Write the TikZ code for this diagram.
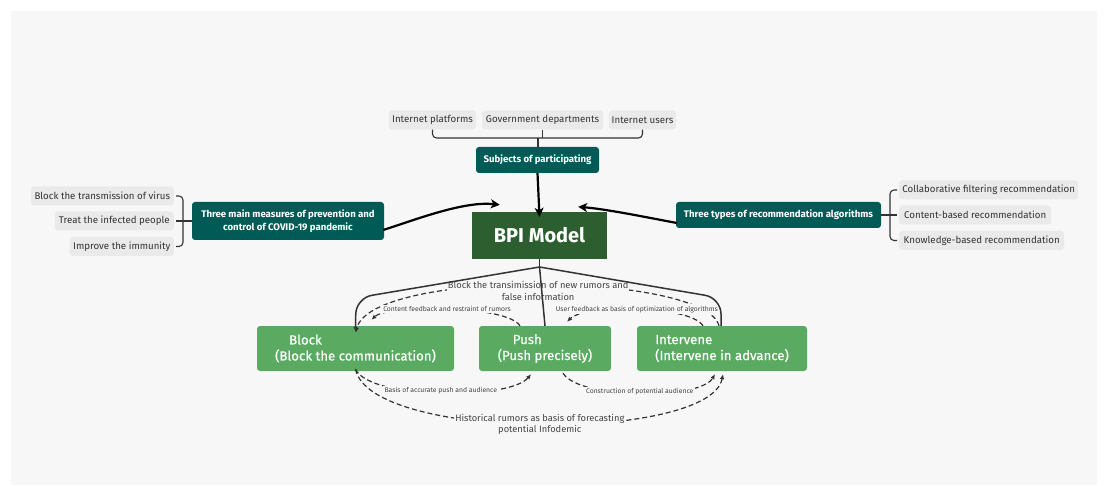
\documentclass[tikz,border=0pt]{standalone}
\usepackage{fontspec}
\setmainfont{Fira Sans}
\newfontfamily\stepfont{Fira Sans}[FakeBold=0.6]
\usetikzlibrary{arrows.meta}
\definecolor{panel}{HTML}{F7F7F7}
\definecolor{leafgray}{HTML}{EAEAEA}
\definecolor{tealbox}{HTML}{005B57}
\definecolor{bpigreen}{HTML}{2C5E30}
\definecolor{stepgreen}{HTML}{5AAA62}
\definecolor{txt}{HTML}{333333}
\definecolor{lbl}{HTML}{444444}
\tikzset{
  leaf/.style={fill=leafgray, rounded corners=3pt, text=txt,
    font=\fontsize{9.7}{11}\selectfont, minimum height=19pt, inner sep=0pt},
  topic/.style={fill=tealbox, rounded corners=3pt, text=white, align=center,
    font=\fontsize{9.6}{12.5}\selectfont\bfseries, inner sep=0pt},
  central/.style={fill=bpigreen, text=white, inner sep=0pt,
    font=\fontsize{20}{24}\selectfont\bfseries},
  stepbox/.style={fill=stepgreen, rounded corners=3pt, text=white, align=left,
    font=\stepfont\fontsize{13.2}{16}\selectfont, minimum height=45pt, inner sep=0pt},
  brk/.style={draw=txt, line width=1.1pt, rounded corners=4pt},
  bigarrow/.style={draw=black, line width=2.2pt,
    -{Stealth[length=9pt,width=9pt,inset=2.5pt]}},
  branch/.style={draw=txt, line width=1.5pt, rounded corners=16pt},
  rel/.style={draw=txt, line width=1.2pt, dash pattern=on 5pt off 3pt,
    -{Latex[length=5pt,width=4.5pt]}},
  rlbig/.style={fill=panel, text=lbl, align=center, inner sep=1pt,
    font=\fontsize{9.3}{11.5}\selectfont},
  rlsmall/.style={fill=panel, text=lbl, inner sep=1.5pt,
    font=\fontsize{6.8}{8}\selectfont},
}
\begin{document}
\begin{tikzpicture}[x=1pt,y=-1pt]
\useasboundingbox (0,0) rectangle (1108,486);
\fill[white] (0,0) rectangle (1108,486);
\fill[panel] (11,11) rectangle (1097,485);

% participants
\node[leaf, minimum width=87pt]  (ip) at (432.5,120) {Internet platforms};
\node[leaf, minimum width=121pt] (gd) at (542.5,120) {Government departments};
\node[leaf, minimum width=67pt]  (iu) at (642.5,120) {Internet users};
\node[topic, minimum width=123pt, minimum height=26pt] (sub) at (537.5,160)
  {Subjects of participating};

% central model
\node[central, minimum width=135pt, minimum height=47pt] (bpi) at (539.5,235.5) {BPI Model};

% prevention measures
\node[topic, minimum width=192pt, minimum height=38pt] (lm) at (288,221)
  {Three main measures of prevention and\\control of COVID-19 pandemic};
\node[leaf, minimum width=143pt, anchor=east] (bt) at (174,196) {Block the transmission of virus};
\node[leaf, minimum width=119pt, anchor=east] (ti) at (174,221) {Treat the infected people};
\node[leaf, minimum width=104pt, anchor=east] (im) at (174,246.5) {Improve the immunity};

% recommendation algorithms
\node[topic, minimum width=205pt, minimum height=26pt] (rt) at (778.5,215)
  {Three types of recommendation algorithms};
\node[leaf, minimum width=179pt, anchor=west] (cf) at (899,190) {Collaborative filtering recommendation};
\node[leaf, minimum width=152pt, anchor=west] (cb) at (899,215) {Content-based recommendation};
\node[leaf, minimum width=165pt, anchor=west] (kb) at (899,240.5) {Knowledge-based recommendation};

% three steps
\node[stepbox, minimum width=197pt] (blk) at (355.5,348.5)
  {\hspace*{14pt}Block\\(Block the communication)};
\node[stepbox, minimum width=132pt] (psh) at (545,348.5)
  {\hspace*{15pt}Push\\(Push precisely)};
\node[stepbox, minimum width=170pt] (itv) at (722,348.5)
  {Intervene\\(Intervene in advance)};

% brackets
\coordinate (jt) at (538,138);
\draw[brk] (ip.south) |- (jt) -| (iu.south);
\draw[brk] (gd.south) -- (gd.south |- jt);
\draw[brk] (jt) -- (jt |- sub.north);

\coordinate (jl) at (183,221);
\draw[brk] ([xshift=2pt]bt.east) -| (jl) |- ([xshift=2pt]im.east);
\draw[brk] ([xshift=2pt]ti.east) -- (lm.west);

\coordinate (jr) at (890,215);
\draw[brk] ([xshift=-2pt]cf.west) -| (jr) |- ([xshift=-2pt]kb.west);
\draw[brk] (rt.east) -- ([xshift=-2pt]cb.west);

% thick arrows into the model
\coordinate (ltip) at ([shift={(28,-7)}]bpi.north west);
\coordinate (rtip) at ([shift={(-29,-5)}]bpi.north east);
\draw[bigarrow] (sub.south) -- ([yshift=-5pt]bpi.north);
\draw[bigarrow] (lm.east) ++(-1,9) .. controls (420,218) and (465,201) .. (ltip);
\draw[bigarrow] (rt.west) ++(1,8) .. controls (640,216) and (605,209) .. (rtip);

% relationships above the steps
\coordinate (itvTop) at ([xshift=-3pt]itv.north);
\coordinate (blkTop) at ([yshift=-7pt]blk.north);
\draw[rel] (itvTop) .. controls (705,272) and (372,268) .. (blkTop)
  node[rlbig, pos=0.5, yshift=-6pt] {Block the transimission of new rumors and\\false information};
\draw[rel] ([xshift=-25pt]psh.north) .. controls (507,305) and (388,304) .. ([shift={(16,-6)}]blk.north);
\path ([xshift=-25pt]psh.north) .. controls (507,305) and (388,304) .. ([shift={(16,-6)}]blk.north)
  node[rlsmall, pos=0.5] {Content feedback and restraint of rumors};
\draw[rel] ([xshift=-19pt]itv.north) .. controls (690,305) and (585,304) .. ([shift={(22,-4)}]psh.north);
\path ([xshift=-19pt]itv.north) .. controls (690,305) and (585,304) .. ([shift={(22,-4)}]psh.north)
  node[rlsmall, pos=0.5] {User feedback as basis of optimization of algorithms};

% tree branches from the model
\coordinate (jb) at (539.5,267);
\draw[branch] (bpi.south) -- (jb);
\draw[branch, -{Latex[length=5pt,width=4.5pt]}] (jb) -- (356,298) -- ([yshift=-6pt]blk.north);
\draw[branch] (jb) -- (psh.north);
\draw[branch] (jb) -- (721,298) -- (721,326);

% relationships below the steps
\coordinate (blkBot) at ([yshift=2pt]blk.south);
\draw[rel] (blkBot) .. controls (370,400) and (510,400) .. ([shift={(-14,3)}]psh.south);
\path (blkBot) .. controls (370,400) and (510,400) .. ([shift={(-14,3)}]psh.south)
  node[rlsmall, pos=0.5, yshift=2pt] {Basis of accurate push and audience};
\draw[rel] ([shift={(18,2)}]psh.south) .. controls (580,400) and (700,400) .. ([shift={(-7,3)}]itv.south);
\path ([shift={(18,2)}]psh.south) .. controls (580,400) and (700,400) .. ([shift={(-7,3)}]itv.south)
  node[rlsmall, pos=0.5, yshift=2pt] {Construction of potential audience};
\draw[rel] (blkBot) .. controls (370,442) and (710,442) .. ([shift={(1,3)}]itv.south)
  node[rlbig, pos=0.5] {Historical rumors as basis of forecasting\\potential Infodemic};
\end{tikzpicture}
\end{document}
